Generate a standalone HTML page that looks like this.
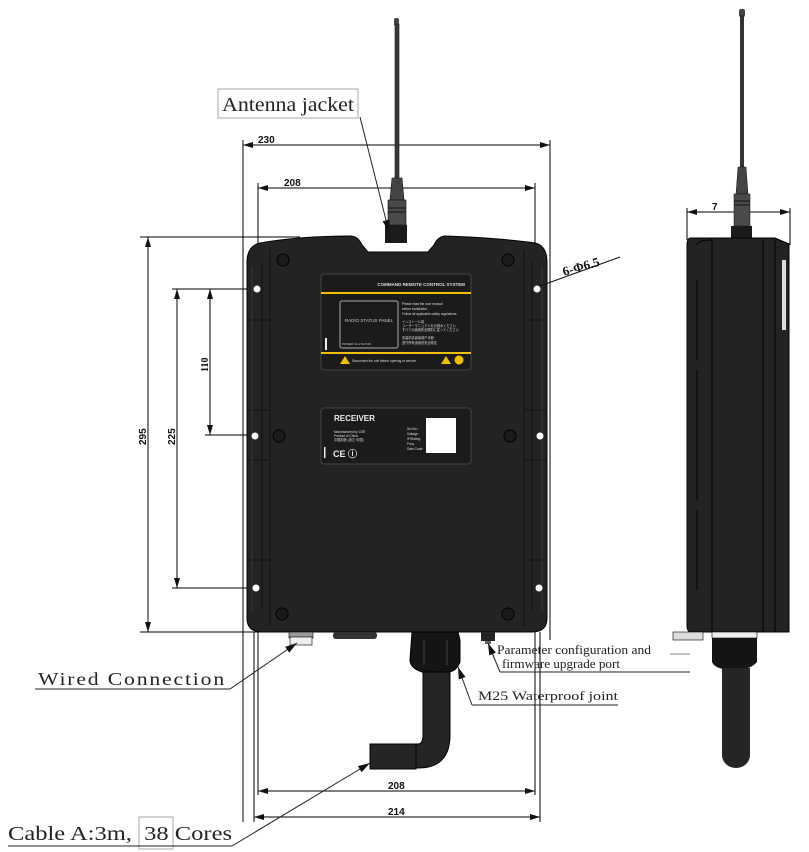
<!DOCTYPE html>
<html><head><meta charset="utf-8"><style>
html,body{margin:0;padding:0;background:#fff}
svg{display:block}
.lbl{font-family:"Liberation Serif","Noto Serif CJK SC",serif;fill:#222}
.dim{font-family:"Liberation Sans",sans-serif;font-weight:bold;font-size:10px;fill:#111}
</style></head><body>
<svg width="809" height="852" viewBox="0 0 809 852" xmlns="http://www.w3.org/2000/svg">
<defs>
<marker id="a" viewBox="0 0 10 6" refX="10" refY="3" markerWidth="18" markerHeight="6" markerUnits="userSpaceOnUse" orient="auto-start-reverse"><path d="M0,0 L10,3 L0,6 z" fill="#111"/></marker>
<marker id="s" viewBox="0 0 10 6" refX="10" refY="3" markerWidth="12" markerHeight="8" markerUnits="userSpaceOnUse" orient="auto"><path d="M0,0 L10,3 L0,6 z" fill="#111"/></marker>
</defs>
<g stroke="#000" stroke-width="1" fill="none">
<line x1="243" y1="140" x2="243" y2="822"/>
<line x1="550" y1="140" x2="550" y2="640"/>
<line x1="258" y1="183" x2="258" y2="795"/>
<line x1="535" y1="183" x2="535" y2="640"/>
<line x1="254" y1="632" x2="254" y2="822"/>
<line x1="540" y1="632" x2="540" y2="822"/>
<line x1="535" y1="632" x2="535" y2="795"/>
<line x1="243" y1="145" x2="550" y2="145" marker-start="url(#a)" marker-end="url(#a)"/>
<line x1="258" y1="188" x2="535" y2="188" marker-start="url(#a)" marker-end="url(#a)"/>
<line x1="258" y1="791" x2="535" y2="791" marker-start="url(#a)" marker-end="url(#a)"/>
<line x1="254" y1="817" x2="540" y2="817" marker-start="url(#a)" marker-end="url(#a)"/>
<line x1="140" y1="237" x2="300" y2="237"/>
<line x1="140" y1="632" x2="260" y2="632"/>
<line x1="172" y1="289" x2="258" y2="289"/>
<line x1="172" y1="588" x2="258" y2="588"/>
<line x1="205" y1="435" x2="258" y2="435"/>
<line x1="148" y1="237" x2="148" y2="632" marker-start="url(#a)" marker-end="url(#a)"/>
<line x1="177" y1="289" x2="177" y2="588" marker-start="url(#a)" marker-end="url(#a)"/>
<line x1="210" y1="289" x2="210" y2="435" marker-start="url(#a)" marker-end="url(#a)"/>
<line x1="687" y1="208" x2="687" y2="240"/>
<line x1="790" y1="208" x2="790" y2="245"/>
<line x1="687" y1="212" x2="790" y2="212" marker-start="url(#a)" marker-end="url(#a)"/>
</g>
<text class="dim" x="258" y="143">230</text>
<text class="dim" x="284" y="186">208</text>
<text class="dim" x="388" y="789">208</text>
<text class="dim" x="388" y="815">214</text>
<text class="dim" transform="translate(146,445) rotate(-90)">295</text>
<text class="dim" transform="translate(175,445) rotate(-90)">225</text>
<text class="dim" style="font-family:'Liberation Serif',serif" transform="translate(208,372) rotate(-90)">110</text>
<text class="dim" x="712" y="210">7</text>

<!-- antenna -->
<rect x="394" y="18" width="5" height="8" rx="2" fill="#444"/>
<rect x="395" y="24" width="4" height="154" fill="#3a3a3a" stroke="#111" stroke-width="0.6"/>
<path d="M392,178 L402,178 L404,200 L390,200 z" fill="#444" stroke="#111" stroke-width="0.6"/>
<rect x="388" y="200" width="18" height="25" fill="#4a4a4a" stroke="#111" stroke-width="0.6"/>
<line x1="388" y1="208" x2="406" y2="208" stroke="#111"/><line x1="388" y1="212" x2="406" y2="212" stroke="#111"/>
<rect x="385" y="225" width="22" height="18" fill="#1a1a1a"/>

<!-- main body -->
<path d="M260,243 Q300,236 350,236 Q358,236 362,245 L368,252 L428,252 L434,245 Q438,236 446,236 Q500,238 535,243 Q547,246 547,262 L547,618 Q547,632 532,632 L262,632 Q247,632 247,618 L247,262 Q247,246 260,243 z" fill="#232323" stroke="#000"/>
<g stroke="#111" stroke-width="1" fill="none">
<path d="M270,250 L270,626 M524,250 L524,626"/>
<path d="M247,320 L270,320 M247,410 L270,410 M247,460 L270,460 M247,560 L270,560 M524,320 L547,320 M524,410 L547,410 M524,460 L547,460 M524,560 L547,560"/>
<path d="M262,262 L262,610 M532,262 L532,610"/>
</g>
<g stroke="#3c3c3c" stroke-width="0.8" fill="none">
<path d="M252,266 L252,612 M542,266 L542,612"/>
</g>
<g fill="#fff"><circle cx="257" cy="289" r="3.5"/><circle cx="537" cy="289" r="3.5"/><circle cx="255" cy="436" r="3.5"/><circle cx="540" cy="436" r="3.5"/><circle cx="256" cy="588" r="3.5"/><circle cx="539" cy="588" r="3.5"/></g>
<g fill="#1a1a1a" stroke="#000"><circle cx="283" cy="260" r="6"/><circle cx="508" cy="260" r="6"/><circle cx="282" cy="614" r="6"/><circle cx="508" cy="614" r="6"/><circle cx="279" cy="436" r="6"/><circle cx="510" cy="436" r="6"/></g>

<!-- top label -->
<rect x="321" y="274" width="150" height="96" rx="3" fill="#1d1a1a" stroke="#444"/>
<text x="465" y="286" text-anchor="end" font-family="Liberation Sans" font-size="4.5" font-weight="bold" fill="#ddd">COMMAND REMOTE CONTROL SYSTEM</text>
<rect x="321" y="292" width="150" height="2" fill="#f0c000"/>
<rect x="321" y="352" width="150" height="2" fill="#f0c000"/>
<rect x="340" y="301" width="58" height="47" rx="2" fill="none" stroke="#aaa"/>
<text x="369" y="322" text-anchor="middle" font-family="Liberation Sans" font-size="4.5" fill="#ccc">RADIO STATUS PANEL</text>
<text x="342" y="345" font-family="Liberation Sans" font-size="3" fill="#ccc">POWER    SI-A    SI-B    RF</text>
<rect x="325" y="338" width="2" height="12" fill="#eee"/>
<g font-family="Liberation Sans" font-size="3.2" fill="#ddd"><text x="402" y="305">Please read the user manual</text><text x="402" y="310">before installation.</text><text x="402" y="315">Follow all applicable safety regulations.</text><text x="402" y="323">インストール前</text><text x="402" y="327">ユーザーマニュアルをお読みください</text><text x="402" y="331">すべての適用安全規則に従ってください</text><text x="402" y="339">安装前请阅读用户手册</text><text x="402" y="344">遵守所有适用的安全规定</text><text x="352" y="362">Disconnect the unit before opening or service</text></g>
<path d="M340,364 L345,356 L350,364 z" fill="#f0c000"/><path d="M441,364 L446,356 L451,364 z" fill="#f0c000"/><circle cx="459" cy="360" r="4.5" fill="#f0c000"/>

<!-- receiver label -->
<rect x="321" y="408" width="150" height="56" rx="3" fill="#1d1a1a" stroke="#444"/>
<text x="334" y="421" font-family="Liberation Sans" font-size="8" font-weight="bold" fill="#eee">RECEIVER</text>
<g font-family="Liberation Sans" font-size="3.2" fill="#ddd"><text x="334" y="433">Manufactured by CSR</text><text x="334" y="437">Product of China</text><text x="334" y="441">中国制造 (浙江·中国)</text><text x="407" y="430">Ser.No.:</text><text x="407" y="435">Voltage:</text><text x="407" y="440">IP/Rating:</text><text x="407" y="445">Freq:</text><text x="407" y="450">Date Code:</text></g>
<rect x="426" y="418" width="30" height="35" fill="#fff"/>
<text x="333" y="457" font-family="Liberation Sans" font-size="9" font-weight="bold" fill="#eee">CE ⓘ</text>
<rect x="324" y="447" width="1.5" height="11" fill="#eee"/>

<!-- bottom parts -->
<rect x="289" y="632" width="24" height="6" fill="#999" stroke="#000" stroke-width="0.6"/>
<rect x="290" y="637" width="22" height="8" fill="#eee" stroke="#000" stroke-width="0.6"/>
<rect x="333" y="632" width="44" height="7" rx="3" fill="#333"/>
<path d="M412,632 L458,632 L460,640 L460,662 Q456,672 448,672 L422,672 Q410,668 410,660 z" fill="#151515" stroke="#000"/>
<line x1="424" y1="640" x2="424" y2="665" stroke="#444"/><line x1="447" y1="640" x2="447" y2="665" stroke="#444"/>
<path d="M423,672 L450,672 L450,735 Q450,768 418,768 L415,768 L415,744 L418,744 Q423,744 423,735 z" fill="#252525" stroke="#000"/>
<rect x="370" y="744" width="46" height="25" fill="#252525" stroke="#000"/>
<rect x="481" y="632" width="14" height="9" fill="#222"/>
<rect x="485" y="641" width="6" height="3" fill="#666"/>

<!-- side view -->
<rect x="739" y="9" width="6" height="8" rx="2" fill="#444"/>
<rect x="740" y="15" width="4" height="152" fill="#333"/>
<path d="M738,167 L746,167 L748,194 L736,194 z" fill="#444" stroke="#111" stroke-width="0.5"/>
<rect x="734" y="194" width="16" height="32" fill="#4a4a4a" stroke="#111" stroke-width="0.5"/>
<line x1="734" y1="201" x2="750" y2="201" stroke="#111"/><line x1="734" y1="205" x2="750" y2="205" stroke="#111"/>
<rect x="731" y="226" width="21" height="13" fill="#1a1a1a"/>
<path d="M691,238 L775,238 L789,244 L789,632 L691,632 Q687,632 687,625 L687,245 Q687,238 691,238 z" fill="#232323" stroke="#000"/>
<g stroke="#000" fill="none"><line x1="763" y1="240" x2="763" y2="632"/><line x1="775" y1="240" x2="775" y2="632"/><path d="M697,245 Q697,240 712,240 L712,632"/><path d="M697,280 L697,360 M697,370 L697,500 M697,510 L697,590"/></g>
<rect x="782" y="260" width="4" height="70" fill="#ddd"/>
<rect x="673" y="632" width="30" height="8" fill="#ddd" stroke="#000" stroke-width="0.6"/>
<rect x="712" y="632" width="45" height="6" fill="#eee" stroke="#000" stroke-width="0.6"/>
<path d="M712,638 L757,638 L757,662 Q750,670 735,670 Q715,670 712,662 z" fill="#151515"/>
<rect x="722" y="668" width="28" height="85" fill="#252525"/>
<ellipse cx="736" cy="755" rx="14" ry="13" fill="#252525"/>
<line x1="670" y1="654" x2="690" y2="654" stroke="#888"/>

<!-- callouts -->
<rect x="218" y="89" width="140" height="29" fill="none" stroke="#aaa"/>
<text class="lbl" x="222" y="111" font-size="20" textLength="132" lengthAdjust="spacingAndGlyphs">Antenna jacket</text>
<line x1="360" y1="117" x2="389" y2="232" stroke="#222" marker-end="url(#s)"/>

<text transform="translate(564,276) rotate(-16)" font-family="Liberation Serif" font-size="13" font-weight="bold" fill="#111">6-&#934;6.5</text>
<line x1="540" y1="286" x2="620" y2="257" stroke="#111"/>

<text class="lbl" x="38" y="685" font-size="18" letter-spacing="1.5" textLength="188" lengthAdjust="spacingAndGlyphs">Wired Connection</text>
<line x1="35" y1="689" x2="230" y2="689" stroke="#222"/>
<line x1="230" y1="689" x2="297" y2="643" stroke="#222" marker-end="url(#s)"/>

<text class="lbl" x="8" y="840" font-size="20" textLength="224" lengthAdjust="spacingAndGlyphs">Cable A:3m, &#160;38 Cores</text>
<rect x="139" y="817" width="34" height="32" fill="none" stroke="#aaa"/>
<line x1="8" y1="846" x2="232" y2="846" stroke="#222"/>
<line x1="232" y1="846" x2="370" y2="763" stroke="#222" marker-end="url(#s)"/>

<text class="lbl" x="497" y="654" font-size="13" textLength="154" lengthAdjust="spacingAndGlyphs">Parameter configuration and</text>
<text class="lbl" x="502" y="668" font-size="13" textLength="118" lengthAdjust="spacingAndGlyphs">firmware upgrade port</text>
<line x1="500" y1="672" x2="690" y2="672" stroke="#222"/>
<line x1="500" y1="672" x2="488" y2="643" stroke="#222" marker-end="url(#s)"/>

<text class="lbl" x="478" y="700" font-size="13" textLength="140" lengthAdjust="spacingAndGlyphs">M25 Waterproof joint</text>
<line x1="472" y1="705" x2="618" y2="705" stroke="#222"/>
<line x1="472" y1="705" x2="458" y2="667" stroke="#222" marker-end="url(#s)"/>
</svg>
</body></html>
